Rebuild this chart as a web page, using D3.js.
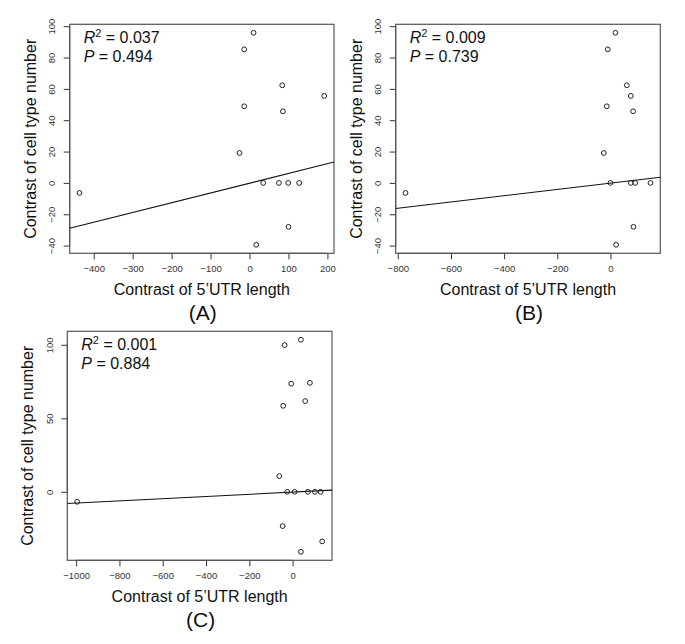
<!DOCTYPE html>
<html>
<head>
<meta charset="utf-8">
<script src="https://cdn.jsdelivr.net/npm/d3@7/dist/d3.min.js"></script>
<style>
  html, body { margin: 0; padding: 0; background: #fff; }
  svg { display: block; }
  text { font-family: "Liberation Sans", Arial, Helvetica, sans-serif; }
</style>
</head>
<body>
<svg id="chart" width="685" height="644"></svg>
<script>
// ---------- Data ----------
const panelLabels = ["(A)", "(B)", "(C)"];
const xTitle = "Contrast of 5\u2019UTR length";
const yTitle = "Contrast of cell type number";

const xA = [-436.6, 10.3, -13.6, 84.0, 191.8, -13.6, 85.7, -25.7, 35.2, 75.5, 99.4, 127.6, 100.2, 17.2];
const yA = [-6.4, 95.8, 85.2, 62.3, 55.5, 48.9, 45.7, 19.1, 0, 0, 0, 0, -28.0, -39.5];

const xB = [-771, 18.8, -10, 61.6, 76.6, -13.8, 85.4, -25.1, 0, 76.6, 93, 150.7, 86.7, 21.3];
const yB = [-6.4, 95.8, 85.2, 62.3, 55.5, 48.9, 45.7, 19.1, 0, 0, 0, 0, -28.0, -39.5];

const xC = [-995.5, 38.3, -36.9, -6.5, 79.8, 58.1, -43.4, -61.8, -24.9, 9.2, 70.6, 102.9, 129.2, -46.1, 136.6, 38.3];
const yC = [-6.8, 103.4, 99.8, 73.5, 74.1, 61.7, 58.5, 10.7, 0, 0, 0, 0, 0, -23.3, -33.7, -40.8];

const r2Values = ["0.037", "0.009", "0.001"];
const pValues = ["0.494", "0.739", "0.884"];
const fitIntercepts = [-0.2, -0.17, -0.18];
const fitSlopes = [0.0623, 0.01996, 0.00742];

const xTicksA = [-400, -300, -200, -100, 0, 100, 200];
const yTicksA = [-40, -20, 0, 20, 40, 60, 80, 100];
const xTicksB = [-800, -600, -400, -200, 0];
const yTicksB = [-40, -20, 0, 20, 40, 60, 80, 100];
const xTicksC = [-1000, -800, -600, -400, -200, 0];
const yTicksC = [0, 50, 100];

// ---------- Layout ----------
const panels = [
  { xs: xA, ys: yA, xt: xTicksA, yt: yTicksA, box: { l: 69.7, r: 334, t: 24.3, b: 253.3 } },
  { xs: xB, ys: yB, xt: xTicksB, yt: yTicksB, box: { l: 395.7, r: 660.3, t: 24.3, b: 253.3 } },
  { xs: xC, ys: yC, xt: xTicksC, yt: yTicksC, box: { l: 67.3, r: 332, t: 331.3, b: 560.3 } }
];

const svg = d3.select("#chart");
const fmt = v => (v < 0 ? "\u2212" + Math.abs(v) : String(v));

// R-style 4% axis expansion
function rLim(arr) {
  const [mn, mx] = d3.extent(arr);
  const pad = (mx - mn) * 0.04;
  return [mn - pad, mx + pad];
}

panels.forEach((p, i) => {
  const b = p.box;
  const x = d3.scaleLinear().domain(rLim(p.xs)).range([b.l, b.r]);
  const y = d3.scaleLinear().domain(rLim(p.ys)).range([b.b, b.t]);
  const g = svg.append("g");

  const clipId = "clip" + i;
  svg.append("clipPath").attr("id", clipId)
    .append("rect").attr("x", b.l).attr("y", b.t)
    .attr("width", b.r - b.l).attr("height", b.b - b.t);

  // x axis
  const xAxis = d3.axisBottom(x).tickValues(p.xt).tickFormat(fmt).tickSize(6).tickPadding(6);
  const gx = g.append("g").attr("transform", `translate(0,${b.b})`).call(xAxis);
  gx.select(".domain").attr("stroke", "#333")
    .attr("d", `M${x(p.xt[0])},0H${x(p.xt[p.xt.length - 1])}`);
  gx.selectAll(".tick line").attr("stroke", "#333");
  gx.selectAll(".tick text").attr("fill", "#333").attr("font-size", 9.5)
    .attr("font-family", "'Liberation Sans', Arial, sans-serif");

  // y axis
  const yAxis = d3.axisLeft(y).tickValues(p.yt).tickFormat(fmt).tickSize(6);
  const gy = g.append("g").attr("transform", `translate(${b.l},0)`).call(yAxis);
  gy.select(".domain").attr("stroke", "#333")
    .attr("d", `M0,${y(p.yt[0])}V${y(p.yt[p.yt.length - 1])}`);
  gy.selectAll(".tick line").attr("stroke", "#333");
  gy.selectAll(".tick text")
    .attr("fill", "#333").attr("font-size", 9.5)
    .attr("font-family", "'Liberation Sans', Arial, sans-serif")
    .attr("x", null).attr("dy", null)
    .attr("text-anchor", "middle")
    .attr("dominant-baseline", "central")
    .attr("transform", "translate(-18,0) rotate(-90)");

  // box
  g.append("rect").attr("x", b.l).attr("y", b.t)
    .attr("width", b.r - b.l).attr("height", b.b - b.t)
    .attr("fill", "none").attr("stroke", "#555").attr("stroke-width", 1.2);

  // regression line (abline)
  const [x0, x1] = x.domain();
  const lineFn = d3.line().x(d => x(d[0])).y(d => y(d[1]));
  g.append("path")
    .attr("clip-path", `url(#${clipId})`)
    .attr("d", lineFn([[x0, fitIntercepts[i] + fitSlopes[i] * x0], [x1, fitIntercepts[i] + fitSlopes[i] * x1]]))
    .attr("fill", "none").attr("stroke", "#111").attr("stroke-width", 1.1);

  // points
  g.selectAll("circle.pt").data(d3.zip(p.xs, p.ys)).join("circle")
    .attr("class", "pt")
    .attr("cx", d => x(d[0])).attr("cy", d => y(d[1]))
    .attr("r", 2.4).attr("fill", "none").attr("stroke", "#222").attr("stroke-width", 1);

  // annotations
  const t1 = g.append("text").attr("x", b.l + 14).attr("y", b.t + 18.5).attr("font-size", 16).attr("fill", "#111");
  t1.append("tspan").attr("font-style", "italic").text("R");
  t1.append("tspan").attr("font-size", 11).attr("dy", -6).text("2");
  t1.append("tspan").attr("dy", 6).text(" = " + r2Values[i]);
  const t2 = g.append("text").attr("x", b.l + 14).attr("y", b.t + 37.7).attr("font-size", 16).attr("fill", "#111");
  t2.append("tspan").attr("font-style", "italic").text("P");
  t2.append("tspan").text(" = " + pValues[i]);

  // axis titles
  const cx = (b.l + b.r) / 2;
  g.append("text").attr("x", cx).attr("y", b.b + 42).attr("text-anchor", "middle")
    .attr("font-size", 16).attr("fill", "#111").text(xTitle);
  g.append("text")
    .attr("transform", `translate(${b.l - 34},${(b.t + b.b) / 2}) rotate(-90)`)
    .attr("text-anchor", "middle").attr("font-size", 16).attr("fill", "#111").text(yTitle);

  // panel label
  g.append("text").attr("x", cx + 1).attr("y", b.b + 67).attr("text-anchor", "middle")
    .attr("font-size", 21).attr("fill", "#111").text(panelLabels[i]);
});
</script>
</body>
</html>
